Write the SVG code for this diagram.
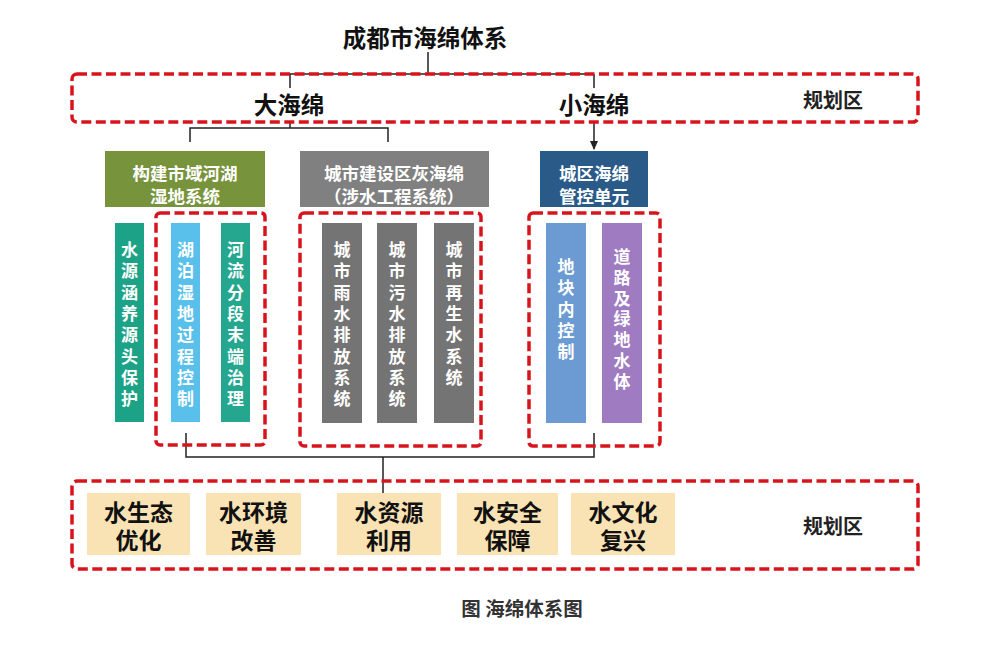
<svg xmlns="http://www.w3.org/2000/svg" width="1001" height="645" viewBox="0 0 1001 645">
<style>
text{font-family:"Noto Sans CJK SC","Noto Sans",sans-serif;font-weight:bold;text-anchor:middle;dominant-baseline:central}
.zone{fill:none;stroke:#d7141c;stroke-width:3.5;stroke-dasharray:10 4.5}
.ln{fill:none;stroke:#222;stroke-width:1.5}
.hd{fill:#fff;font-size:17.5px}
.vt{fill:#fff;font-size:17px}
.goal{fill:#f9e3b5}
.gt{fill:#111;font-size:23px}
.lbl{fill:#222;font-size:20px}
</style>
<defs>
<marker id="arr" markerWidth="10" markerHeight="10" refX="8" refY="5" orient="auto" markerUnits="userSpaceOnUse">
<path d="M0,1 L9,5 L0,9 Z" fill="#222"/>
</marker>
</defs>
<rect width="1001" height="645" fill="#fff"/>

<g id="connectors">
<path class="ln" d="M428,52 V74 M290,74 H594 M290,74 V88 M594,74 V88"/>
<path class="ln" d="M290,122 V128 M190,142 V128 H388 V142"/>
<path class="ln" d="M594,122 V149" marker-end="url(#arr)"/>
<path class="ln" d="M186,433 V457 H594 V433 M383,457 V493"/>
</g>

<g id="title"><text x="425" y="37" style="font-size:23.5px;fill:#111">成都市海绵体系</text></g>

<g id="zone-top">
<rect class="zone" x="72" y="74" width="846" height="48" rx="5"/>
<text class="lbl" x="833" y="99">规划区</text>
</g>
<g id="big-sponge"><text x="289" y="104" style="font-size:23.5px;fill:#111">大海绵</text></g>
<g id="small-sponge"><text x="594" y="104" style="font-size:23.5px;fill:#111">小海绵</text></g>

<g id="hdr-green">
<rect x="105" y="151" width="160" height="56" fill="#77933c"/>
<text class="hd" x="185" y="172">构建市域河湖</text>
<text class="hd" x="185" y="195">湿地系统</text>
</g>
<g id="hdr-gray">
<rect x="300" y="151" width="189" height="56" fill="#808080"/>
<text class="hd" x="394" y="172">城市建设区灰海绵</text>
<text class="hd" x="394" y="195">（涉水工程系统）</text>
</g>
<g id="hdr-blue">
<rect x="540" y="151" width="108" height="56" fill="#2a5a88"/>
<text class="hd" x="594" y="172">城区海绵</text>
<text class="hd" x="594" y="195">管控单元</text>
</g>

<g id="zone1"><rect class="zone" x="156" y="213" width="109" height="232" rx="4"/></g>
<g id="zone2"><rect class="zone" x="300" y="213" width="181" height="233" rx="4"/></g>
<g id="zone3"><rect class="zone" x="529" y="213" width="131" height="233" rx="4"/></g>

<g id="bar-source">
<rect x="115" y="223" width="29" height="199" fill="#1ca287"/>
<text class="vt" x="129.5" y="248"><tspan x="129.5">水</tspan><tspan x="129.5" dy="21.3">源</tspan><tspan x="129.5" dy="21.3">涵</tspan><tspan x="129.5" dy="21.3">养</tspan><tspan x="129.5" dy="21.3">源</tspan><tspan x="129.5" dy="21.3">头</tspan><tspan x="129.5" dy="21.3">保</tspan><tspan x="129.5" dy="21.3">护</tspan></text>
</g>
<g id="bar-lake">
<rect x="171" y="223" width="29" height="199" fill="#58c0ea"/>
<text class="vt" x="185.5" y="248"><tspan x="185.5">湖</tspan><tspan x="185.5" dy="21.3">泊</tspan><tspan x="185.5" dy="21.3">湿</tspan><tspan x="185.5" dy="21.3">地</tspan><tspan x="185.5" dy="21.3">过</tspan><tspan x="185.5" dy="21.3">程</tspan><tspan x="185.5" dy="21.3">控</tspan><tspan x="185.5" dy="21.3">制</tspan></text>
</g>
<g id="bar-river">
<rect x="221" y="223" width="29" height="199" fill="#25a78f"/>
<text class="vt" x="235.5" y="248"><tspan x="235.5">河</tspan><tspan x="235.5" dy="21.3">流</tspan><tspan x="235.5" dy="21.3">分</tspan><tspan x="235.5" dy="21.3">段</tspan><tspan x="235.5" dy="21.3">末</tspan><tspan x="235.5" dy="21.3">端</tspan><tspan x="235.5" dy="21.3">治</tspan><tspan x="235.5" dy="21.3">理</tspan></text>
</g>
<g id="bar-rain">
<rect x="322" y="223" width="40" height="200" fill="#747474"/>
<text class="vt" x="342" y="248"><tspan x="342">城</tspan><tspan x="342" dy="21.3">市</tspan><tspan x="342" dy="21.3">雨</tspan><tspan x="342" dy="21.3">水</tspan><tspan x="342" dy="21.3">排</tspan><tspan x="342" dy="21.3">放</tspan><tspan x="342" dy="21.3">系</tspan><tspan x="342" dy="21.3">统</tspan></text>
</g>
<g id="bar-sewage">
<rect x="377" y="223" width="40" height="200" fill="#747474"/>
<text class="vt" x="397" y="248"><tspan x="397">城</tspan><tspan x="397" dy="21.3">市</tspan><tspan x="397" dy="21.3">污</tspan><tspan x="397" dy="21.3">水</tspan><tspan x="397" dy="21.3">排</tspan><tspan x="397" dy="21.3">放</tspan><tspan x="397" dy="21.3">系</tspan><tspan x="397" dy="21.3">统</tspan></text>
</g>
<g id="bar-reuse">
<rect x="434" y="223" width="40" height="200" fill="#747474"/>
<text class="vt" x="454" y="248"><tspan x="454">城</tspan><tspan x="454" dy="21.3">市</tspan><tspan x="454" dy="21.3">再</tspan><tspan x="454" dy="21.3">生</tspan><tspan x="454" dy="21.3">水</tspan><tspan x="454" dy="21.3">系</tspan><tspan x="454" dy="21.3">统</tspan></text>
</g>
<g id="bar-plot">
<rect x="546" y="223" width="40" height="200" fill="#6b9bd2"/>
<text class="vt" x="566" y="265"><tspan x="566">地</tspan><tspan x="566" dy="21.3">块</tspan><tspan x="566" dy="21.3">内</tspan><tspan x="566" dy="21.3">控</tspan><tspan x="566" dy="21.3">制</tspan></text>
</g>
<g id="bar-road">
<rect x="602" y="223" width="40" height="200" fill="#9f7bc2"/>
<text class="vt" x="622" y="255"><tspan x="622">道</tspan><tspan x="622" dy="20.8">路</tspan><tspan x="622" dy="20.8">及</tspan><tspan x="622" dy="20.8">绿</tspan><tspan x="622" dy="20.8">地</tspan><tspan x="622" dy="20.8">水</tspan><tspan x="622" dy="20.8">体</tspan></text>
</g>

<g id="zone-bottom">
<rect class="zone" x="72" y="481" width="846" height="88" rx="5"/>
<text class="lbl" x="833" y="525">规划区</text>
</g>
<g id="goal-eco"><rect class="goal" x="87" y="493" width="103" height="62"/><text class="gt" x="138.5" y="511">水生态</text><text class="gt" x="138.5" y="539">优化</text></g>
<g id="goal-env"><rect class="goal" x="206" y="493" width="95" height="62"/><text class="gt" x="253.5" y="511">水环境</text><text class="gt" x="253.5" y="539">改善</text></g>
<g id="goal-res"><rect class="goal" x="337" y="493" width="104" height="62"/><text class="gt" x="389" y="511">水资源</text><text class="gt" x="389" y="539">利用</text></g>
<g id="goal-safe"><rect class="goal" x="457" y="493" width="101" height="62"/><text class="gt" x="507.5" y="511">水安全</text><text class="gt" x="507.5" y="539">保障</text></g>
<g id="goal-cult"><rect class="goal" x="571" y="493" width="104" height="62"/><text class="gt" x="623" y="511">水文化</text><text class="gt" x="623" y="539">复兴</text></g>

<g id="caption"><text x="522" y="607" style="font-size:19.5px;fill:#333">图 海绵体系图</text></g>
</svg>
